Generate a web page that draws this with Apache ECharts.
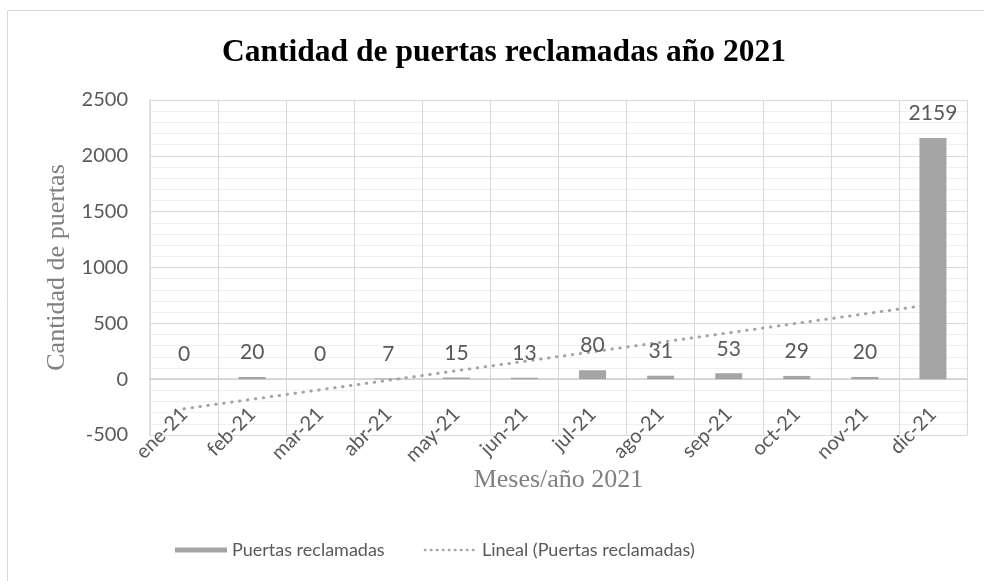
<!DOCTYPE html>
<html>
<head>
<meta charset="utf-8">
<script src="https://cdn.jsdelivr.net/npm/echarts@6/dist/echarts.min.js"></script>
<style>html,body{margin:0;padding:0;background:#fff;}#c{width:984px;height:581px;}</style>
</head>
<body>
<div id="c"></div>
<script>
const months = ['ene-21','feb-21','mar-21','abr-21','may-21','jun-21','jul-21','ago-21','sep-21','oct-21','nov-21','dic-21'];
const doors = [0, 20, 0, 7, 15, 13, 80, 31, 53, 29, 20, 2159];
const trendEnds = [-265, 670];
const yTicks = [-500, 0, 500, 1000, 1500, 2000, 2500];

const trendData = months.map((m, i) => i === 0 ? trendEnds[0] : (i === months.length - 1 ? trendEnds[1] : null));

const sans = 'Lato, "Open Sans", sans-serif';
const serif = '"Liberation Serif", "DejaVu Serif", serif';
const grey = '#595959';

const chart = echarts.init(document.getElementById('c'));
chart.setOption({
  animation: false,
  backgroundColor: '#fff',
  title: {
    text: 'Cantidad de puertas reclamadas año 2021',
    left: 499, top: 32, textAlign: 'center',
    textStyle: { fontFamily: serif, fontWeight: 'bold', fontSize: 31.5, color: '#000' }
  },
  graphic: [{
    type: 'rect', shape: { x: 7.5, y: 10.5, width: 1000, height: 600 },
    style: { fill: 'none', stroke: '#d9d9d9', lineWidth: 1 }, silent: true, z: -10
  }],
  legend: {
    left: 170, top: 536, itemGap: 39, itemWidth: 52, itemHeight: 5,
    textStyle: { fontFamily: sans, fontSize: 18, color: grey },
    data: [
      { name: 'Puertas reclamadas', icon: 'rect' },
      { name: 'Lineal (Puertas reclamadas)', itemStyle: { opacity: 0 },
        lineStyle: { color: '#a5a5a5', width: 2.5, type: [0.5, 5.5], cap: 'round' } }
    ]
  },
  grid: { left: 150, right: 17, top: 100, bottom: 146 },
  xAxis: [{
    type: 'category', data: months, boundaryGap: true,
    name: 'Meses/año 2021', nameLocation: 'middle', nameGap: 32, nameMoveOverlap: false,
    nameTextStyle: { fontFamily: serif, fontSize: 26, color: '#808080' },
    axisLine: { show: false, onZero: false },
    axisTick: { show: false },
    splitLine: { show: true, interval: 0, lineStyle: { color: '#d9d9d9', width: 1 } },
    axisLabel: { rotate: 45, margin: -24, interval: 0, fontFamily: sans, fontSize: 20, color: grey }
  }, {
    type: 'category', data: months, boundaryGap: true, position: 'bottom',
    axisLine: { show: true, onZero: true, lineStyle: { color: '#d0d0d0', width: 1.5 } },
    axisTick: { show: true, interval: 0, length: 6, lineStyle: { color: '#d9d9d9' } },
    axisLabel: { show: false },
    splitLine: { show: false }
  }],
  yAxis: {
    type: 'value', min: yTicks[0], max: yTicks[yTicks.length - 1], interval: 500,
    name: 'Cantidad de puertas', nameLocation: 'middle', nameGap: 80, nameMoveOverlap: false,
    nameTextStyle: { fontFamily: serif, fontSize: 26, color: '#808080' },
    axisLine: { show: true, lineStyle: { color: '#d9d9d9', width: 1.5 } },
    axisTick: { show: false },
    axisLabel: { fontFamily: sans, fontSize: 20, color: grey, margin: 22, formatter: v => String(v) },
    splitLine: { lineStyle: { color: '#d9d9d9', width: 1 } },
    minorTick: { show: false, splitNumber: 5 },
    minorSplitLine: { show: true, lineStyle: { color: '#f0f0f0', width: 1 } }
  },
  series: [{
    name: 'Lineal (Puertas reclamadas)', type: 'line', data: trendData, connectNulls: true,
    symbol: 'none', z: 1,
    lineStyle: { color: '#a5a5a5', width: 3, type: [0.5, 7.5], cap: 'round' },
    itemStyle: { color: '#a5a5a5' }
  }, {
    name: 'Puertas reclamadas', type: 'bar', data: doors, barWidth: 27, z: 3,
    itemStyle: { color: '#a5a5a5' },
    label: { show: true, position: 'top', distance: 14, fontFamily: sans, fontSize: 21, color: grey }
  }]
});
</script>
</body>
</html>
